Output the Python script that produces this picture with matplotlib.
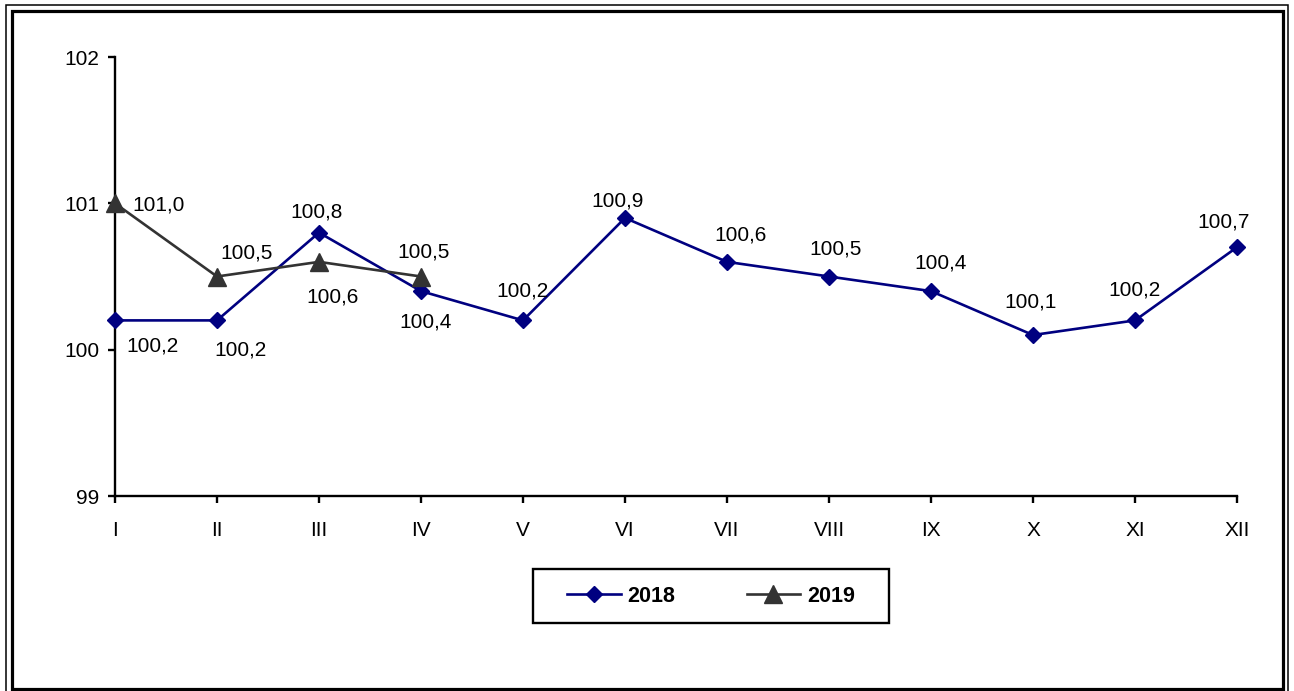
import matplotlib
matplotlib.use("Agg")
import matplotlib.pyplot as plt
from matplotlib.patches import Rectangle

plt.rcParams['font.family'] = ['Liberation Sans', 'DejaVu Sans']

# data
months = ['I', 'II', 'III', 'IV', 'V', 'VI', 'VII', 'VIII', 'IX', 'X', 'XI', 'XII']
vals_2018 = [100.2, 100.2, 100.8, 100.4, 100.2, 100.9, 100.6, 100.5, 100.4, 100.1, 100.2, 100.7]
vals_2019 = [101.0, 100.5, 100.6, 100.5]

# label offsets in pixels (dx, dy; dy up)
off_2018 = [(37, -24), (23, -28), (-2, 23), (5, -29), (-1, 31), (-7, 19),
            (14, 29), (7, 30), (10, 30), (-2, 35), (0, 32), (-13, 27)]
off_2019 = [(44, 0), (30, 26), (14, -33), (3, 27)]

W, H = 1294, 691
fig = plt.figure(figsize=(W / 100, H / 100), dpi=100)
ax = fig.add_axes([115 / W, 1 - 496 / H, (1237 - 115) / W, (496 - 57) / H])

x18 = list(range(len(vals_2018)))
x19 = list(range(len(vals_2019)))
ax.plot(x18, vals_2018, color='#000080', lw=1.9, marker='D', ms=8.3, label='2018', clip_on=False, zorder=3)
ax.plot(x19, vals_2019, color='#333333', lw=1.9, marker='^', ms=12.5, label='2019', clip_on=False, zorder=3)

def fmt(v):
    return f"{v:.1f}".replace('.', ',')

for x, v, (dx, dy) in zip(x18, vals_2018, off_2018):
    ax.annotate(fmt(v), (x, v), xytext=(dx, dy), textcoords='offset pixels',
                ha='center', va='center_baseline', fontsize=15)
for x, v, (dx, dy) in zip(x19, vals_2019, off_2019):
    ax.annotate(fmt(v), (x, v), xytext=(dx, dy), textcoords='offset pixels',
                ha='center', va='center_baseline', fontsize=15)

ax.set_xlim(0, len(months) - 1)
ax.set_ylim(99, 102)
ax.set_xticks(x18)
ax.set_xticklabels(months)
ax.set_yticks([99, 100, 101, 102])
ax.spines['top'].set_visible(False)
ax.spines['right'].set_visible(False)
for s in ['left', 'bottom']:
    ax.spines[s].set_linewidth(1.7)
ax.tick_params(axis='x', length=5, width=1.7, pad=13, labelsize=15)
ax.tick_params(axis='y', length=5, width=1.7, pad=6, labelsize=15)

# legend
leg = fig.legend(loc='center', bbox_to_anchor=(711 / W, 1 - 596 / H), ncol=2, frameon=False,
                 prop={'weight': 'bold', 'size': 15.5}, handlelength=2.5, handletextpad=0.3,
                 columnspacing=3.3)
fig.add_artist(Rectangle((533 / W, 1 - 623 / H), (889 - 533) / W, (623 - 569) / H,
                         transform=fig.transFigure, fill=False, lw=1.7, ec='black'))

# double frame around figure
fig.add_artist(Rectangle((6 / W, -2 / H), (1288 - 6) / W, (H + 2 - 5) / H,
                         transform=fig.transFigure, fill=False, lw=1.1, ec='black'))
fig.add_artist(Rectangle((11.5 / W, 1 - 688.5 / H), (1283 - 11.5) / W, (688.5 - 10.5) / H,
                         transform=fig.transFigure, fill=False, lw=2.3, ec='black'))

fig.savefig('out.png', dpi=100)
